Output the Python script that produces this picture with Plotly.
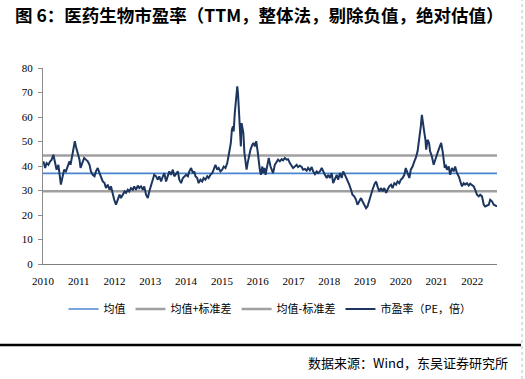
import plotly.graph_objects as go

# ---- data ----
dates = [
    2010.01, 2010.06, 2010.10, 2010.15, 2010.20, 2010.24, 2010.29, 2010.34, 2010.38, 2010.43,
    2010.48, 2010.50, 2010.55, 2010.59, 2010.64, 2010.68, 2010.74, 2010.77, 2010.81, 2010.85,
    2010.89, 2010.92, 2010.96, 2011.02, 2011.05, 2011.11, 2011.15, 2011.20, 2011.25, 2011.30,
    2011.34, 2011.39, 2011.44, 2011.48, 2011.53, 2011.58, 2011.62, 2011.67, 2011.72, 2011.76,
    2011.81, 2011.86, 2011.90, 2011.95, 2011.99, 2012.04, 2012.09, 2012.14,
    2012.18, 2012.23, 2012.28, 2012.32, 2012.37, 2012.41, 2012.46, 2012.51, 2012.55, 2012.60,
    2012.65, 2012.69, 2012.74, 2012.79, 2012.83, 2012.88, 2012.93, 2012.97, 2013.02, 2013.07,
    2013.11, 2013.16, 2013.21, 2013.25, 2013.30, 2013.35, 2013.39, 2013.44, 2013.49, 2013.53,
    2013.58, 2013.63, 2013.67, 2013.72, 2013.77, 2013.81, 2013.86, 2013.91, 2013.95, 2014.00,
    2014.05, 2014.09, 2014.14, 2014.19, 2014.23,
    2014.26, 2014.31, 2014.35, 2014.40, 2014.45, 2014.49, 2014.54, 2014.59, 2014.63, 2014.68,
    2014.73, 2014.77, 2014.82, 2014.87, 2014.91, 2014.96, 2015.01, 2015.05, 2015.10, 2015.15,
    2015.17, 2015.21, 2015.25, 2015.28, 2015.31, 2015.33, 2015.36, 2015.39, 2015.43, 2015.45,
    2015.48, 2015.51, 2015.53, 2015.55, 2015.58, 2015.60, 2015.63, 2015.66, 2015.69, 2015.72,
    2015.75, 2015.80, 2015.85, 2015.89, 2015.92, 2015.96, 2016.00, 2016.03, 2016.06, 2016.09,
    2016.13, 2016.15, 2016.19, 2016.22, 2016.27, 2016.31, 2016.36,
    2016.43, 2016.48, 2016.53, 2016.57, 2016.62, 2016.67, 2016.71, 2016.76, 2016.81, 2016.85,
    2016.90, 2016.95, 2016.99, 2017.04, 2017.09, 2017.13, 2017.18, 2017.23, 2017.27, 2017.32,
    2017.37, 2017.41, 2017.46, 2017.51, 2017.55, 2017.60, 2017.65, 2017.69, 2017.74, 2017.79,
    2017.83, 2017.88, 2017.93, 2017.97, 2018.02, 2018.07, 2018.11, 2018.16, 2018.21, 2018.25,
    2018.30, 2018.35, 2018.39, 2018.44,
    2018.51, 2018.56, 2018.61, 2018.65, 2018.70, 2018.75, 2018.79, 2018.84, 2018.89, 2018.93,
    2018.98, 2019.03, 2019.07, 2019.12, 2019.17, 2019.21, 2019.26, 2019.31, 2019.35, 2019.40,
    2019.45, 2019.49, 2019.54, 2019.59, 2019.63, 2019.68, 2019.73, 2019.77, 2019.82, 2019.87,
    2019.91, 2019.96, 2020.00, 2020.05, 2020.10, 2020.14, 2020.19, 2020.24, 2020.28, 2020.33,
    2020.38, 2020.42, 2020.47, 2020.52, 2020.56, 2020.59,
    2020.62, 2020.66, 2020.69, 2020.71, 2020.75, 2020.79, 2020.82, 2020.87, 2020.92, 2020.96,
    2021.01, 2021.06, 2021.10, 2021.13, 2021.17, 2021.20, 2021.23, 2021.26, 2021.29, 2021.34,
    2021.38, 2021.43, 2021.48, 2021.52, 2021.57, 2021.62, 2021.66, 2021.71, 2021.76, 2021.80,
    2021.85, 2021.90, 2021.94, 2021.99, 2022.04, 2022.08, 2022.13, 2022.18, 2022.22, 2022.27,
    2022.32, 2022.36, 2022.41, 2022.46, 2022.50, 2022.55, 2022.60, 2022.64, 2022.69,
]

pe_values = [
    41.9, 39.2, 41.2, 40.5, 41.9, 42.5, 44.6, 41.2, 38.5, 40.5,
    35.8, 32.4, 35.8, 38.5, 37.8, 39.8, 41.9, 40.5, 43.3, 46.7,
    50.1, 48.0, 46.0, 42.6, 39.2, 41.9, 43.3, 42.6, 41.9, 40.5,
    37.8, 36.4, 35.8, 37.8, 39.2, 37.1, 35.8, 33.7, 33.0, 31.0,
    32.4, 30.3, 31.7, 28.3, 26.2, 24.2, 26.2, 28.3,
    26.9, 28.3, 29.6, 29.0, 30.3, 29.6, 31.0, 30.3, 31.7, 30.3,
    32.0, 31.0, 31.7, 30.3, 31.7, 28.3, 26.9, 29.6, 32.4, 34.4,
    36.4, 35.8, 34.4, 35.8, 33.7, 35.8, 37.1, 33.7, 35.8, 37.8,
    36.4, 38.5, 35.8, 37.1, 37.8, 34.4, 33.0, 35.1, 35.8, 36.4,
    35.8, 37.8, 39.2, 37.1, 37.8,
    35.8, 35.1, 33.0, 34.4, 33.7, 35.1, 34.4, 35.8, 35.1, 36.4,
    37.1, 38.5, 40.5, 38.5, 39.2, 37.8, 38.5, 39.8, 39.2, 41.2,
    43.3, 46.0, 49.4, 54.8, 56.2, 54.1, 61.6, 67.1, 72.5, 69.8,
    63.0, 54.8, 48.0, 57.5, 54.8, 53.5, 45.3, 41.2, 38.5, 41.2,
    43.9, 46.7, 48.7, 49.4, 48.0, 50.1, 46.0, 41.2, 38.5, 36.4,
    39.8, 37.1, 39.2, 36.4, 41.2, 43.3, 39.8,
    37.1, 40.5, 41.9, 42.6, 41.9, 42.8, 42.3, 43.3, 42.6, 42.8,
    41.2, 40.1, 39.2, 39.8, 40.5, 39.6, 40.1, 39.6, 38.5, 38.8,
    38.1, 39.2, 38.2, 39.6, 37.8, 36.7, 37.8, 37.1, 37.8, 39.2,
    37.8, 36.4, 35.1, 36.4, 35.1, 37.1, 33.0, 35.1, 36.4, 34.4,
    37.1, 35.1, 37.8, 36.4,
    34.4, 32.4, 30.3, 28.3, 27.6, 26.2, 24.2, 25.6, 26.9, 25.6,
    23.8, 22.8, 23.5, 26.2, 28.3, 30.3, 32.4, 33.7, 31.7, 29.6,
    31.0, 29.6, 31.0, 29.0, 30.3, 31.7, 32.4, 31.0, 33.0, 32.4,
    33.7, 33.0, 34.4, 35.1, 36.4, 39.2, 37.1, 35.1, 38.5, 39.8,
    41.9, 43.3, 46.0, 50.7, 56.2, 60.9,
    56.9, 53.5, 50.7, 46.7, 50.7, 49.4, 46.0, 43.9, 40.5, 42.6,
    44.6, 46.7, 48.7, 49.4, 46.0, 42.6, 39.2, 40.5, 38.5, 39.8,
    36.4, 39.2, 37.8, 39.8, 37.1, 35.8, 33.7, 31.7, 33.0, 32.4,
    33.0, 32.0, 32.8, 32.4, 31.7, 30.3, 28.3, 27.6, 28.3, 27.6,
    24.2, 23.5, 23.8, 24.2, 26.2, 25.6, 24.2, 23.8, 23.5,
]

mean_value = 37.0
std_value = 7.3
period_start = 2010.0
period_end = 2022.69

tick_years = list(range(2010, 2023))
tick_labels = [str(y) for y in tick_years]
y_ticks = [0, 10, 20, 30, 40, 50, 60, 70, 80]

series_names = ["均值", "均值+标准差", "均值-标准差", "市盈率（PE，倍）"]
title_text = "图 6：医药生物市盈率（TTM，整体法，剔除负值，绝对估值）"
source_text = "数据来源：Wind，东吴证券研究所"

# ---- figure ----
W, H = 525, 379
L, R, T, B = 43, 28, 68, 115
PW, PH = W - L - R, H - T - B

fig = go.Figure()

band_x = [period_start, period_end]
fig.add_trace(go.Scatter(x=band_x, y=[mean_value, mean_value], mode="lines",
                         name=series_names[0], line=dict(color="#4A86D0", width=1.6)))
fig.add_trace(go.Scatter(x=band_x, y=[mean_value + std_value] * 2, mode="lines",
                         name=series_names[1], line=dict(color="#A0A0A0", width=2.6)))
fig.add_trace(go.Scatter(x=band_x, y=[mean_value - std_value] * 2, mode="lines",
                         name=series_names[2], line=dict(color="#A0A0A0", width=2.6)))
fig.add_trace(go.Scatter(x=dates, y=pe_values, mode="lines",
                         name=series_names[3], line=dict(color="#1C3660", width=2.0)))

tick_font = dict(family="Liberation Serif, Times New Roman, serif", size=11, color="#000000")
cjk = "Noto Sans CJK SC, sans-serif"


def px_x(x):
    return (x - L) / PW


def px_y(y):
    return (H - B - y) / PH


fig.update_layout(
    width=W, height=H, autosize=False,
    margin=dict(l=L, r=R, t=T, b=B, pad=0),
    paper_bgcolor="white", plot_bgcolor="white",
    showlegend=True,
    legend=dict(orientation="h", x=0.5, xanchor="center", y=px_y(309), yanchor="middle",
                font=dict(family=cjk, size=11, color="#000000"),
                bgcolor="rgba(0,0,0,0)", itemclick=False, itemdoubleclick=False,
                tracegroupgap=0),
    title=dict(text="<b>" + title_text + "</b>", x=15 / W, xanchor="left",
               y=1 - 16 / H, yanchor="middle", yref="container",
               font=dict(family=cjk, size=17.5, color="#000000")),
    xaxis=dict(range=[period_start, period_end], tickmode="array", tickvals=tick_years,
               ticktext=tick_labels, showgrid=False, zeroline=False, showline=True,
               linecolor="#7F7F7F", linewidth=1, ticks="", tickfont=tick_font,
               ticklabelstandoff=7),
    yaxis=dict(range=[0, 80], tickmode="array", tickvals=y_ticks, showgrid=False,
               zeroline=False, showline=True, linecolor="#8C8C8C", linewidth=1,
               ticks="outside", ticklen=4, tickcolor="#8C8C8C", tickfont=tick_font,
               ticklabelstandoff=3),
    annotations=[
        dict(text=source_text, xref="paper", yref="paper",
             x=px_x(510), xanchor="right",
             y=px_y(362), yanchor="middle", showarrow=False,
             font=dict(family=cjk, size=13, color="#000000")),
    ],
    shapes=[
        dict(type="line", xref="paper", yref="paper",
             x0=px_x(0), x1=px_x(521), y0=px_y(345), y1=px_y(345),
             line=dict(color="#000000", width=2.5)),
        dict(type="line", xref="paper", yref="paper",
             x0=px_x(522), x1=px_x(522), y0=px_y(379), y1=px_y(0),
             line=dict(color="#BBBBBB", width=1, dash="dot")),
    ],
)

fig.write_html("out.html",
               config={"displayModeBar": False},
               post_script="document.body.style.margin='0';document.body.style.padding='0';")
